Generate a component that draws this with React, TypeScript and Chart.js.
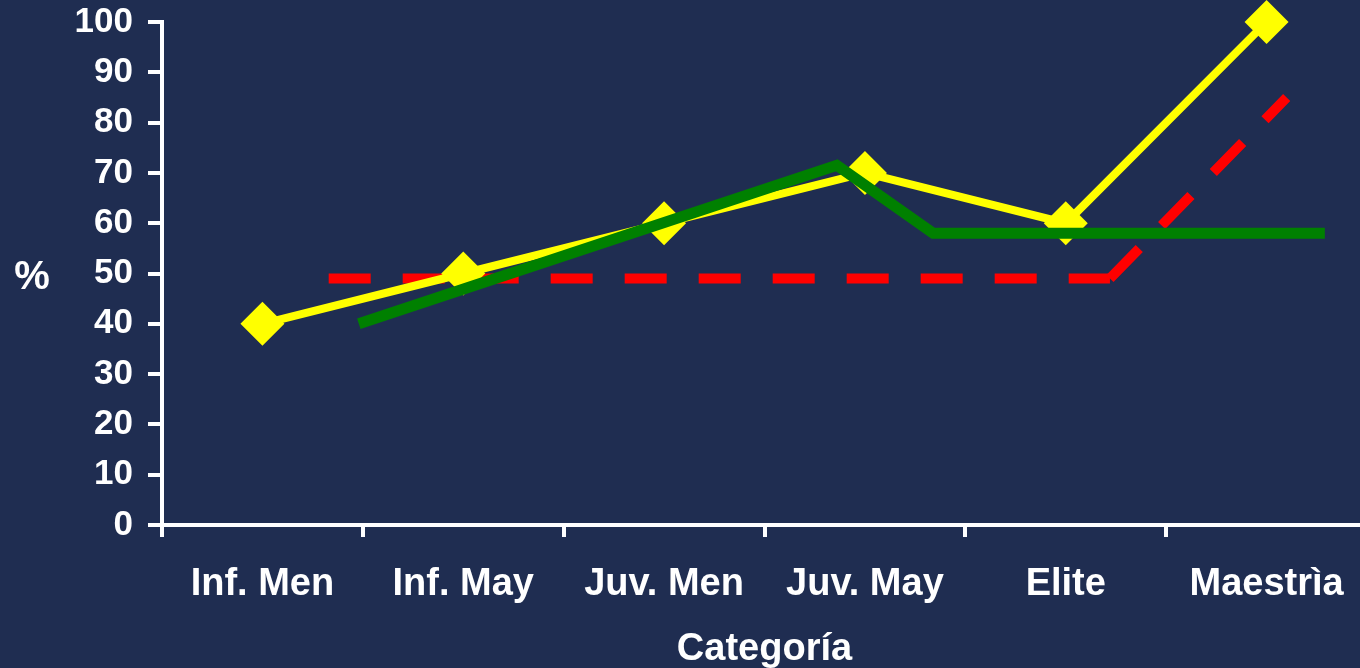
import React, { useEffect, useRef } from "react";
import { Chart, registerables } from "chart.js";

Chart.register(...registerables);

const categories = ["Inf. Men", "Inf. May", "Juv. Men", "Juv. May", "Elite", "Maestrìa"];
const yellowValues = [40, 50, 60, 70, 60, 100];
// positions along the category axis (0 = first category centre)
const greenPositions = [0.48, 2.86, 3.34, 5.29];
const greenValues = [40, 71.5, 58, 58];
const redPositions = [0.33, 4.22, 5.1];
const redValues = [49, 49, 85];
const yMin = 0;
const yMax = 100;
const yStep = 10;
const xTitle = "Categoría";
const yTitle = "%";

const BG = "#1F2D51";
const FONT = '"Liberation Sans", Arial, Helvetica, sans-serif';

const redPoints = redPositions.map((x, i) => ({ x, y: redValues[i] }));

const redStyle = {
  xAxisID: "x2",
  borderColor: "#FF0000",
  borderWidth: 10,
  borderDash: [42, 32],
  borderCapStyle: "butt",
  pointRadius: 0,
  tension: 0,
  fill: false,
  order: 3,
};

export default function App() {
  const ref = useRef<HTMLCanvasElement | null>(null);

  useEffect(() => {
    if (!ref.current) return;
    const percentPlugin = {
      id: "percentLabel",
      afterDraw(chart: any) {
        const { ctx, chartArea } = chart;
        ctx.save();
        ctx.fillStyle = "#ffffff";
        ctx.font = `bold 40px ${FONT}`;
        ctx.textAlign = "center";
        ctx.textBaseline = "middle";
        ctx.fillText(yTitle, 32, (chartArea.top + chartArea.bottom) / 2 + 4);
        ctx.restore();
      },
    };

    const chart = new Chart(ref.current, {
      type: "line",
      data: {
        labels: categories,
        datasets: [
          {
            label: "green",
            data: greenPositions.map((x, i) => ({ x, y: greenValues[i] })),
            xAxisID: "x2",
            borderColor: "#008000",
            borderWidth: 11,
            pointRadius: 0,
            tension: 0,
            fill: false,
            order: 1,
          } as any,
          {
            label: "yellow",
            data: yellowValues,
            xAxisID: "x",
            borderColor: "#FFFF00",
            backgroundColor: "#FFFF00",
            borderWidth: 8,
            pointStyle: "rectRot",
            pointRadius: 22,
            pointBorderWidth: 0,
            pointBackgroundColor: "#FFFF00",
            tension: 0,
            fill: false,
            clip: false,
            order: 2,
          } as any,
          { label: "red", data: redPoints.slice(0, 2), ...redStyle } as any,
          { label: "red-up", data: redPoints.slice(1), ...redStyle } as any,
        ],
      },
      options: {
        animation: false,
        responsive: false,
        maintainAspectRatio: false,
        layout: { autoPadding: false, padding: { top: 22, right: 13, left: 0, bottom: 0 } },
        plugins: {
          legend: { display: false },
          tooltip: { enabled: false },
        },
        scales: {
          x: {
            type: "category",
            offset: true,
            grid: {
              offset: true,
              drawOnChartArea: false,
              drawTicks: true,
              tickLength: 12,
              color: "#ffffff",
              lineWidth: 4,
            },
            border: { display: true, color: "#ffffff", width: 4 },
            ticks: {
              color: "#ffffff",
              font: { family: FONT, size: 38, weight: "bold", lineHeight: 2.5 },
              padding: 0,
              maxRotation: 0,
              autoSkip: false,
            },
            title: {
              display: true,
              text: xTitle,
              color: "#ffffff",
              font: { family: FONT, size: 38, weight: "bold", lineHeight: 1 },
              padding: { top: 0, bottom: -1 },
            },
            afterFit(scale: any) {
              scale.height = 143;
            },
          },
          x2: {
            type: "linear",
            display: false,
            min: -0.5,
            max: categories.length - 0.5,
          },
          y: {
            min: yMin,
            max: yMax,
            grid: {
              drawOnChartArea: false,
              drawTicks: true,
              tickLength: 14,
              color: "#ffffff",
              lineWidth: 4,
            },
            border: { display: true, color: "#ffffff", width: 4 },
            ticks: {
              stepSize: yStep,
              color: "#ffffff",
              font: { family: FONT, size: 35, weight: "bold", lineHeight: 0.3 },
              padding: 15,
            },
            afterFit(scale: any) {
              scale.width = 162;
            },
          },
        },
      },
      plugins: [percentPlugin],
    } as any);
    return () => chart.destroy();
  }, []);

  return (
    <div
      style={{
        position: "fixed",
        left: 0,
        top: 0,
        width: "100vw",
        height: "100vh",
        overflow: "hidden",
        background: BG,
      }}
    >
      <canvas
        ref={ref}
        width={1380}
        height={668}
        style={{ position: "absolute", left: 0, top: 0, width: 1380, height: 668 }}
      />
    </div>
  );
}
